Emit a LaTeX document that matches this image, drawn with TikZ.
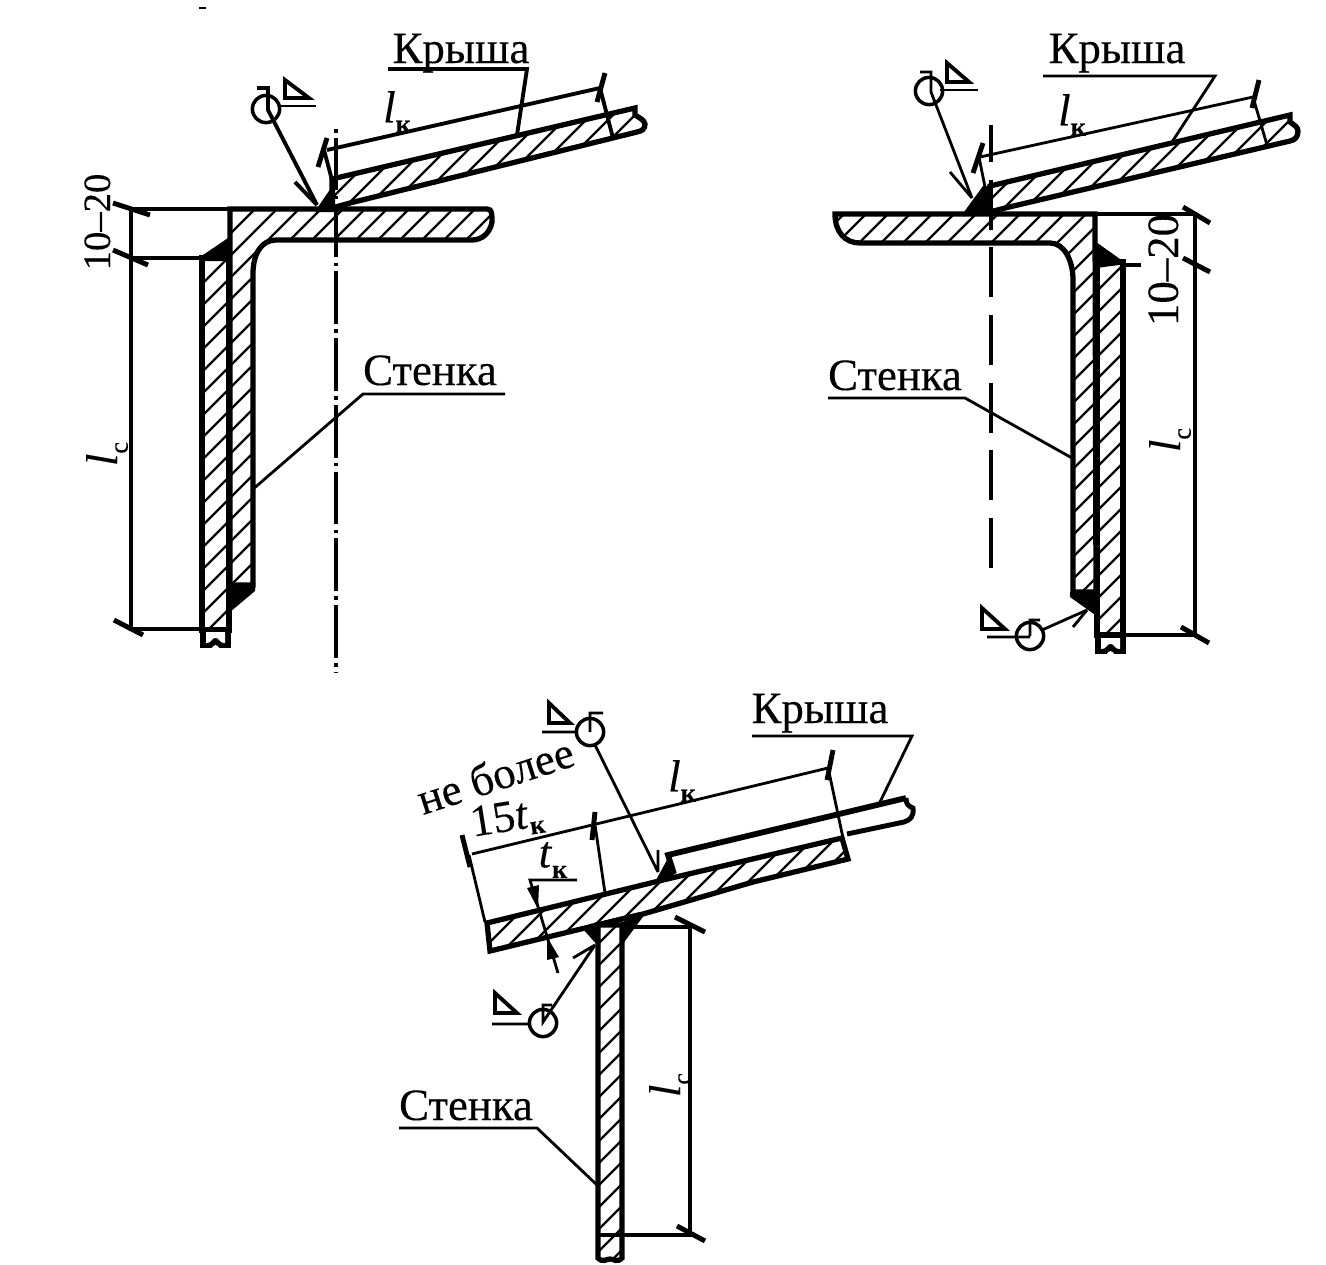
\documentclass[tikz,border=0pt]{standalone}
\usepackage{fontspec}
\setmainfont[FakeBold=0.25]{Liberation Serif}
\newcommand{\lblfont}{\fontsize{25.5}{28}\selectfont}
\newcommand{\subk}{\raisebox{-6pt}{\fontsize{15}{16}\selectfont\bfseries к}}
\newcommand{\subkh}{\raisebox{-4pt}{\fontsize{15}{16}\selectfont\bfseries к}}
\newcommand{\subc}{\raisebox{-6pt}{\fontsize{15}{16}\selectfont с}}
\tikzset{
  outline/.style={line width=3pt,line join=miter,black},
  hatchline/.style={line width=1.25pt,black},
  thinline/.style={line width=1.6pt,black},
  dimline/.style={line width=2.2pt,black},
  slash/.style={line width=2.8pt,black},
  weldsym/.style={line width=2.2pt,line join=miter,black},
  lbl/.style={anchor=base,inner sep=0pt,font=\lblfont},
  sublbl/.style={anchor=center,inner sep=0pt,font=\lblfont},
  circ/.style={circle,draw=black,line width=2pt,minimum size=15.5pt,inner sep=0pt},
}
\newcommand{\hatched}[1]{%
  \begin{scope}\clip #1 -- cycle;
    \foreach \k in {-60,...,60} {\draw[hatchline] (\k*22,1300) -- (\k*22+1300,0);}
  \end{scope}
  \draw[outline] #1 -- cycle;}
\newcommand{\brk}[3]{% left x, top y, width
  \begin{scope}[shift={(#1,#2)}]
    \fill[black] (0,0) rectangle (#3,19);
    \fill[white] (6,3) -- (#3-6,3) -- (#3-6,14) .. controls (#3*0.65,15) and (#3*0.6,8) .. (#3*0.5,9) .. controls (#3*0.4,8) and (#3*0.35,15) .. (6,14) -- cycle;
    \fill[white] (#3*0.5-4,19.5) .. controls (#3*0.5-2,15) and (#3*0.5+2,15) .. (#3*0.5+4,19.5) -- cycle;
  \end{scope}}
\begin{document}
\begin{tikzpicture}[x=0.02cm,y=-0.02cm]
\useasboundingbox (0,0) rectangle (1326,1265);
\fill[white] (0,0) rectangle (1326,1265);
\draw[line width=1pt] (199,8) -- (206,8);

% ---------- FIGURE 1 ----------
\hatched{(202,258) -- (229,258) -- (229,630) -- (202,630)}
\brk{200}{629}{31}
\hatched{(230,209) -- (483,209) .. controls (491,209) .. (492,217) -- (492,222) .. controls (490,233) and (482,240) .. (472,240) -- (276,240) .. controls (262,240) and (253,253) .. (253,274) -- (253,585) -- (230,585)}
\hatched{(332,179) -- (635,108) -- (635,115) .. controls (640,118) and (644,120) .. (645,124) .. controls (645,129) and (642,131) .. (637,132) -- (350,203) -- (332,208)}
\fill[black] (231,236) -- (231,261) -- (200,261) -- (203,255) -- cycle;
\fill[black] (230,583) -- (255,583) -- (255,591) -- (230,612) -- cycle;
\fill[black] (316,210) -- (331,188) -- (335,180) -- (335,210) -- (350,205) -- (335,212) -- (316,212) -- cycle;
\draw[line width=2.3pt,black,dash pattern=on 2pt off 3pt on 30pt off 3pt] (336,129) -- (336,672);
% dims
\coordinate (a1) at (131,209); \coordinate (a2) at (131,258); \coordinate (a3) at (131,629);
\draw[dimline] (231,209) -- (a1) -- (a3) -- (202,629) (a2) -- (202,258);
\draw[slash] (113,203) -- (150,215) (113,250) -- (148,265) (114,620) -- (143,635);
\node[lbl,rotate=90,font=\fontsize{22}{24}\selectfont] (t1020a) at (110,222) {10–20};
\node[sublbl,rotate=90] (tlca) at (107,454) {\textit{l}\subc};
\draw[dimline] (327,150) -- (600,88) (324,150) -- (332,180) (600,88) -- (613,138);
\draw[slash] (327,138) -- (318,167) (605,73) -- (597,102);
\node[sublbl] (tlka) at (397,112) {\textit{l}\subk};
\node[lbl] (tkra) at (461,63) {Крыша};
\draw[dimline] (388,69) -- (527,69) -- (517,135);
\node[lbl] (tsta) at (430,385) {Стенка};
\draw[thinline] (505,394) -- (363,394) -- (252,490);
% weld
\node[circ] (ca) at (266,109) {};
\draw[weldsym] (257,88) -- (268,88) -- (268,110) -- (317,205) (295,182) -- (317,205);
\draw[weldsym] (285,80) -- (285,98) -- (309,98) -- cycle;
\draw[thinline] (279,106) -- (316,106);

% ---------- FIGURE 2 ----------
\hatched{(1097,262) -- (1123,262) -- (1123,635) -- (1097,635)}
\brk{1095}{635}{31}
\hatched{(1095,214) -- (845,214) -- (835,214) .. controls (835,232) and (845,243) .. (860,243) -- (1050,243) .. controls (1064,243) and (1073,260) .. (1073,280) -- (1073,592) -- (1096,592)}
\hatched{(990,186) -- (1290,115) -- (1290,122) .. controls (1294,125) and (1298,127) .. (1298,131) .. controls (1298,137) and (1295,140) .. (1290,141) -- (1005,208) -- (990,212)}
\fill[black] (1096,242) -- (1127,264) -- (1096,268) -- cycle;
\fill[black] (1070,592) -- (1098,590) -- (1098,617) -- (1070,597) -- cycle;
\fill[black] (964,212) -- (983,186) -- (990,186) -- (990,214) -- (964,214) -- cycle;
\draw[line width=2.5pt,black,dash pattern=on 28.5pt off 10pt,dash phase=7.4pt] (991,125) -- (991,568);
\coordinate (b1) at (1195,214); \coordinate (b3) at (1195,635);
\draw[dimline] (1097,214) -- (b1) -- (b3) -- (1123,635) (1125,265) -- (1141,265);
\draw[slash] (1183,207) -- (1210,223) (1183,258) -- (1210,272) (1181,627) -- (1209,643);
\node[lbl,rotate=90] (t1020b) at (1178,270) {10–20};
\node[sublbl,rotate=90] (tlcb) at (1170,440) {\textit{l}\subc};
\draw[thinline] (980,157) -- (1253,97) (979,157) -- (985,187) (1253,97) -- (1267,145);
\draw[slash] (983,143) -- (973,173) (1259,80) -- (1252,108);
\node[sublbl] (tlkb) at (1072,115) {\textit{l}\subk};
\node[lbl] (tkrb) at (1117,63) {Крыша};
\draw[thinline] (1043,76) -- (1215,76) -- (1172,142);
\node[lbl] (tstb) at (895,390) {Стенка};
\draw[thinline] (828,398) -- (965,398) -- (1072,458);
\node[circ] (cb) at (929,91) {};
\draw[thinline] (920,72) -- (931,72) -- (931,92) -- (972,198) (950,172) -- (972,198);
\draw[weldsym] (947,63) -- (947,82) -- (969,82) -- cycle;
\draw[thinline] (940,90) -- (978,90);
% lower-right weld symbol
\node[circ] (cc) at (1030,636) {};
\draw[thinline] (1040,620) -- (1030,620) -- (1030,636) (987,637) -- (1030,637) (1042,630) -- (1087,610) (1073,627) -- (1087,610);
\draw[weldsym] (982,608) -- (982,629) -- (1005,629) -- cycle;

% ---------- FIGURE 3 ----------
\hatched{(598,925) -- (622,925) -- (622,1258) .. controls (617,1263) and (614,1259) .. (610,1259) .. controls (606,1259) and (603,1263) .. (598,1258)}
\hatched{(487,923) -- (663,880) -- (842,838) -- (848,859) -- (753,882) -- (643,914) -- (490,951)}
\fill[black] (582,928) -- (598,924) -- (600,924) -- (600,948) -- cycle;
\fill[black] (620,923) -- (645,914) -- (622,945) -- cycle;
\fill[black] (590,924) -- (640,912) -- (645,915) -- (610,921) -- cycle;
\draw[line width=3.3pt,black,line join=miter] (674,874) -- (668,855) -- (906,798);
\draw[line width=2.8pt,black,line join=miter] (906,798) .. controls (906,804) and (908,806) .. (913,808) .. controls (914,817) and (910,820) .. (904,822) -- (847,834);
\fill[black] (655,882) -- (667,860) -- (674,875) -- cycle;
\coordinate (c1) at (690,927); \coordinate (c3) at (690,1235);
\draw[dimline] (624,927) -- (c1) -- (c3) -- (597,1235);
\draw[slash] (675,917) -- (705,932) (677,1226) -- (705,1241);
\node[sublbl,rotate=90] (tlcc) at (670,1085) {\textit{l}\subc};
\draw[thinline] (472,854) -- (828,768) (469,855) -- (485,922) (594,818) -- (605,893) (829,772) -- (843,838);
\draw[slash] (462,835) -- (470,867) (595,812) -- (592,840) (833,750) -- (827,780);
\node[sublbl] (tlkc) at (682,781) {\textit{l}\subk};
\node[lbl,rotate=18] (tne) at (500,790) {не более};
\node[lbl,rotate=9] (t15) at (509,831) {15\textit{t}\subkh};
\node[sublbl] (ttk) at (553,860) {\textit{t}\subk};
\draw[thinline] (577,880) -- (530,880) -- (558,973);
\fill[black] (538,909) -- (527,888) -- (539,885) -- cycle;
\fill[black] (547,937) -- (547,960) -- (559,957) -- cycle;
\node[lbl] (tkrc) at (820,723) {Крыша};
\draw[thinline] (752,736) -- (912,736) -- (880,802);
\node[lbl] (tstc) at (466,1120) {Стенка};
\draw[thinline] (399,1128) -- (537,1128) -- (597,1185);
\node[circ] (cd) at (590,732) {};
\draw[thinline] (603,713) -- (590,713) -- (590,732) (542,732) -- (577,732) (595,745) -- (658,872) (658,850) -- (658,872);
\draw[weldsym] (549,703) -- (549,723) -- (570,723) -- cycle;
\node[circ] (ce) at (543,1023) {};
\draw[thinline] (552,1005) -- (543,1005) -- (543,1022) -- (595,945) (492,1024) -- (530,1024) (573,958) -- (595,945);
\draw[weldsym] (495,993) -- (495,1013) -- (517,1013) -- cycle;
\end{tikzpicture}
\end{document}
